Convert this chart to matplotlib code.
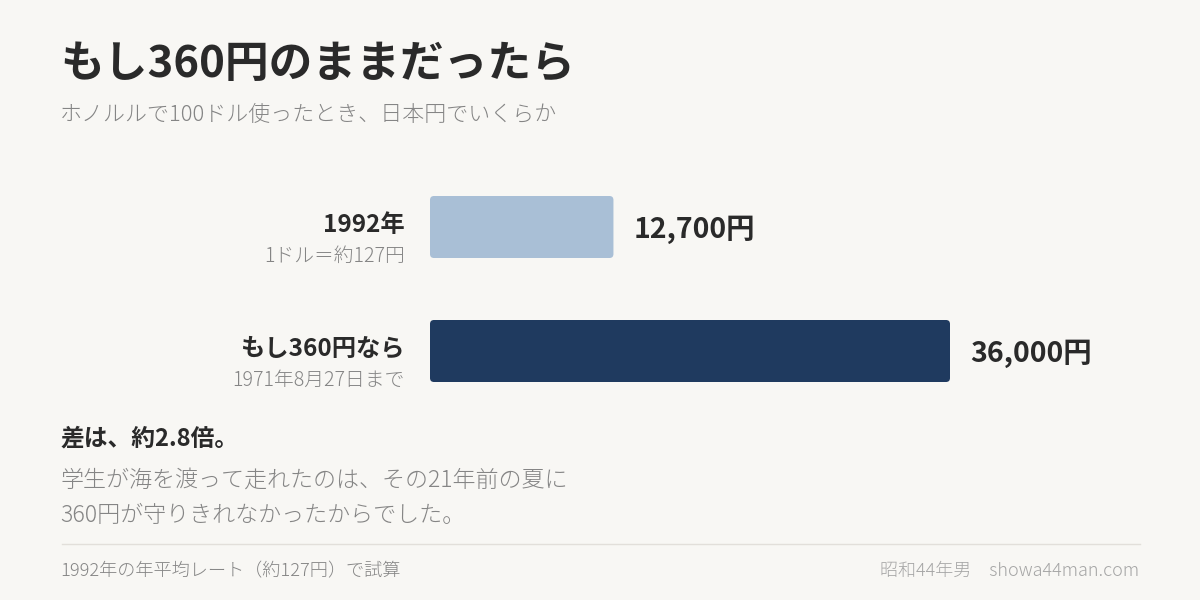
import matplotlib
matplotlib.use("Agg")
import matplotlib.pyplot as plt
from matplotlib.patches import FancyBboxPatch

plt.rcParams['font.family'] = ['Noto Sans CJK JP', 'DejaVu Sans']

# ---- data ----
categories = ["1992年", "もし360円なら"]
sublabels = ["1ドル＝約127円", "1971年8月27日まで"]
values = [12700, 36000]
value_labels = ["12,700円", "36,000円"]
bar_colors = ["#a9bfd6", "#1f3a5f"]

title = "もし360円のままだったら"
subtitle = "ホノルルで100ドル使ったとき、日本円でいくらか"
headline = "差は、約2.8倍。"
body_lines = ["学生が海を渡って走れたのは、その21年前の夏に",
              "360円が守りきれなかったからでした。"]
footer_left = "1992年の年平均レート（約127円）で試算"
footer_right = "昭和44年男　showa44man.com"

BG = "#f8f7f4"
DARK = "#2a2a2a"
GRAY = "#858585"
LIGHT = "#a5a5a5"

W, H = 1200, 600
fig = plt.figure(figsize=(12, 6), dpi=100, facecolor=BG)

def fy(px):
    return 1 - px / H

def fx(px):
    return px / W

# ---- bar axes ----
ax_left, ax_right = 430, 950
ax_top, ax_bot = 196, 382
ax = fig.add_axes([fx(ax_left), fy(ax_bot), (ax_right - ax_left) / W, (ax_bot - ax_top) / H])
ax.set_facecolor("none")
ax.set_xlim(0, 36000)
ax.set_ylim(1.25, -0.25)
ax.axis("off")

bar_h = 0.5
bars = ax.barh(range(len(values)), values, height=bar_h, color=bar_colors)
x_per_px = 36000 / (ax_right - ax_left)
y_per_px = 1.5 / (ax_bot - ax_top)
r_px = 4
for b in bars:
    x0, y0 = b.get_x(), b.get_y()
    w, h = b.get_width(), b.get_height()
    b.set_visible(False)
    p = FancyBboxPatch((x0, y0), w, h,
                       boxstyle=f"round,pad=0,rounding_size={r_px * x_per_px}",
                       mutation_aspect=y_per_px / x_per_px,
                       facecolor=b.get_facecolor(), edgecolor="none")
    ax.add_patch(p)

for i, (v, lab) in enumerate(zip(values, value_labels)):
    ax.annotate(lab, (v, i), xytext=(20, -3), textcoords="offset pixels",
                ha="left", va="center", fontsize=20.5, fontweight="bold", color=DARK)

# category labels
cat_y = [225, 349]
sub_y = [256, 380]
for c, s, cy, sy in zip(categories, sublabels, cat_y, sub_y):
    fig.text(fx(405), fy(cy), c, ha="right", va="center", fontsize=17.5,
             fontweight="bold", color=DARK)
    fig.text(fx(405), fy(sy), s, ha="right", va="center", fontsize=14.2,
             fontweight=300, color=GRAY)

# title & subtitle
fig.text(fx(60), fy(64), title, ha="left", va="center", fontsize=31.5,
         fontweight="bold", color=DARK)
fig.text(fx(60), fy(115), subtitle, ha="left", va="center", fontsize=15.8,
         fontweight=300, color=GRAY)

# headline & body
fig.text(fx(60), fy(439), headline, ha="left", va="center", fontsize=17.1,
         fontweight="bold", color=DARK)
for i, line in enumerate(body_lines):
    fig.text(fx(60), fy(480 + 35 * i), line, ha="left", va="center", fontsize=16.6,
             fontweight=300, color=GRAY)

# separator
fig.add_artist(plt.Line2D([fx(62), fx(1140)], [fy(544), fy(544)], color="#e2dfda", lw=1))

# footer
fig.text(fx(60), fy(571), footer_left, ha="left", va="center", fontsize=13.1,
         fontweight=300, color=GRAY)
fig.text(fx(1139), fy(571), footer_right, ha="right", va="center", fontsize=13,
         fontweight=300, color=LIGHT)

fig.savefig("out.png", dpi=100, facecolor=BG)
